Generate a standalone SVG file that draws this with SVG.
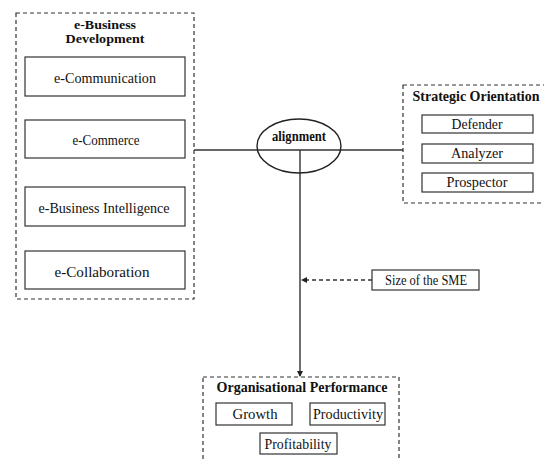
<svg xmlns="http://www.w3.org/2000/svg" width="544" height="459" viewBox="0 0 544 459">
<defs>
<marker id="ah" markerWidth="6" markerHeight="6" refX="5" refY="3" orient="auto" markerUnits="userSpaceOnUse">
<path d="M0,0 L6,3 L0,6 z" fill="#222"/>
</marker>
<style>
.dash{fill:none;stroke:#333;stroke-width:1.2;stroke-dasharray:4,3}
.box{fill:#fff;stroke:#333;stroke-width:1.2}
.t{font-family:"Liberation Serif","Times New Roman",serif;font-size:14px;fill:#111;text-anchor:middle}
.b{font-weight:bold}
.s{font-size:12.5px}
.ln{fill:none;stroke:#333;stroke-width:1.4}
</style>
</defs>
<rect width="544" height="459" fill="#fff"/>
<g id="connectors">
<line class="ln" x1="194" y1="150" x2="403" y2="150"/>
<line class="ln" x1="300" y1="150" x2="300" y2="376" marker-end="url(#ah)"/>
<line class="ln" x1="372" y1="280" x2="302" y2="280" stroke-dasharray="4,3" marker-end="url(#ah)"/>
</g>
<g id="ebusiness">
<rect class="dash" x="16" y="13" width="178" height="286"/>
<text class="t b s" x="105" y="29" textLength="62" lengthAdjust="spacingAndGlyphs">e-Business</text>
<text class="t b s" x="105" y="43" textLength="79" lengthAdjust="spacingAndGlyphs">Development</text>
</g>
<g id="ecomm">
<rect class="box" x="25" y="57" width="160" height="39"/>
<text class="t" x="105" y="83" textLength="102" lengthAdjust="spacingAndGlyphs">e-Communication</text>
</g>
<g id="ecommerce">
<rect class="box" x="25" y="120" width="160" height="38"/>
<text class="t" x="106" y="145" textLength="67" lengthAdjust="spacingAndGlyphs">e-Commerce</text>
</g>
<g id="ebi">
<rect class="box" x="25" y="187" width="160" height="39"/>
<text class="t" x="104" y="213" textLength="131" lengthAdjust="spacingAndGlyphs">e-Business Intelligence</text>
</g>
<g id="ecollab">
<rect class="box" x="25" y="251" width="160" height="38"/>
<text class="t" x="102" y="277" textLength="95" lengthAdjust="spacingAndGlyphs">e-Collaboration</text>
</g>
<g id="alignment">
<ellipse cx="299" cy="146" rx="42" ry="27" fill="none" stroke="#222" stroke-width="1.4"/>
<text class="t b" x="299" y="141" textLength="54" lengthAdjust="spacingAndGlyphs">alignment</text>
</g>
<g id="strategic">
<rect class="dash" x="403" y="85" width="150" height="118"/>
<text class="t b" x="476" y="101" textLength="127" lengthAdjust="spacingAndGlyphs">Strategic Orientation</text>
</g>
<g id="defender">
<rect class="box" x="422" y="115" width="111" height="18"/>
<text class="t" x="477" y="129" textLength="51" lengthAdjust="spacingAndGlyphs">Defender</text>
</g>
<g id="analyzer">
<rect class="box" x="422" y="144" width="111" height="19"/>
<text class="t" x="477" y="158" textLength="52" lengthAdjust="spacingAndGlyphs">Analyzer</text>
</g>
<g id="prospector">
<rect class="box" x="422" y="173" width="111" height="19"/>
<text class="t" x="477" y="187" textLength="61" lengthAdjust="spacingAndGlyphs">Prospector</text>
</g>
<g id="size">
<rect class="box" x="372" y="270" width="107" height="20"/>
<text class="t" x="426" y="285" textLength="82" lengthAdjust="spacingAndGlyphs">Size of the SME</text>
</g>
<g id="performance">
<rect class="dash" x="203" y="377" width="196" height="90"/>
<text class="t b" x="302" y="392" textLength="171" lengthAdjust="spacingAndGlyphs">Organisational Performance</text>
</g>
<g id="growth">
<rect class="box" x="216" y="403" width="76" height="22"/>
<text class="t" x="255" y="419" textLength="45" lengthAdjust="spacingAndGlyphs">Growth</text>
</g>
<g id="productivity">
<rect class="box" x="310" y="403" width="75" height="22"/>
<text class="t" x="348" y="419" textLength="70" lengthAdjust="spacingAndGlyphs">Productivity</text>
</g>
<g id="profitability">
<rect class="box" x="260" y="433" width="77" height="21"/>
<text class="t" x="298" y="449" textLength="67" lengthAdjust="spacingAndGlyphs">Profitability</text>
</g>
</svg>
